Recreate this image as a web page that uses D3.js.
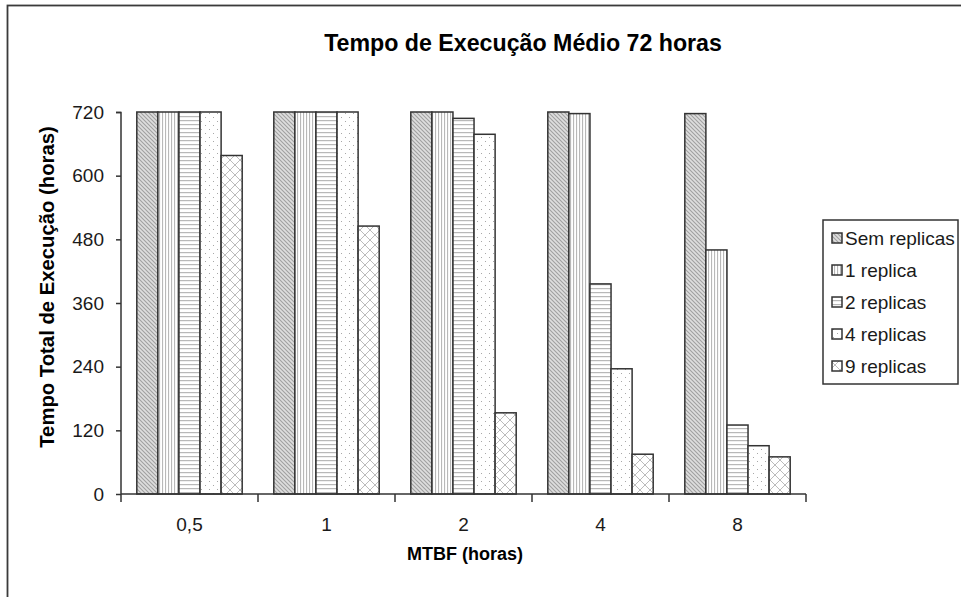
<!DOCTYPE html>
<html><head><meta charset="utf-8">
<script src="https://cdn.jsdelivr.net/npm/d3@7/dist/d3.min.js"></script>
<style>body{margin:0;background:#fff}svg{display:block;font-family:"Liberation Sans",Arial,sans-serif}</style>
</head><body><svg id="c" width="961" height="597"></svg>
<script>
const categories = ["0,5","1","2","4","8"];
const seriesNames = ["Sem replicas","1 replica","2 replicas","4 replicas","9 replicas"];
const semReplicas = [720,720,720,720,717];
const replica1 = [720,720,720,717,460];
const replicas2 = [720,720,708,396,130];
const replicas4 = [720,720,678,236,91];
const replicas9 = [638,505,153,75,70];
const yTicks = [0,120,240,360,480,600,720];
const seriesValues = [semReplicas, replica1, replicas2, replicas4, replicas9];

const svg = d3.select("#c");
const defs = svg.append("defs");
function pat(id, w, h, bg, draw){
  const p = defs.append("pattern").attr("id",id).attr("patternUnits","userSpaceOnUse").attr("width",w).attr("height",h);
  p.append("rect").attr("width",w).attr("height",h).attr("fill",bg);
  draw(p);
}
pat("p0",4,4,"#dedede",p=>{
  p.append("path").attr("d","M-1,-1L5,5M-1,3L1,5M3,-1L5,1").attr("stroke","#a0a0a0").attr("stroke-width",1.1);
});
pat("p1",3,4,"#fff",p=>{
  p.append("rect").attr("x",0).attr("y",0).attr("width",1.1).attr("height",4).attr("fill","#b8b8b8");
});
pat("p2",3,4,"#fff",p=>{
  p.append("rect").attr("x",0).attr("y",0).attr("width",3).attr("height",1.2).attr("fill","#b8b8b8");
});
pat("p3",8,8,"#fff",p=>{
  p.append("rect").attr("x",1).attr("y",1).attr("width",1).attr("height",1).attr("fill","#a8a8a8");
  p.append("rect").attr("x",5).attr("y",5).attr("width",1).attr("height",1).attr("fill","#a8a8a8");
});
pat("p4",10,10,"#fff",p=>{
  p.append("path").attr("d","M0,0L10,10M10,0L0,10M-1,9L1,11M9,-1L11,1M-1,1L1,-1M9,11L11,9").attr("stroke","#bcbcbc").attr("stroke-width",1);
});
const fills = ["url(#p0)","url(#p1)","url(#p2)","url(#p3)","url(#p4)"];

svg.append("rect").attr("x",7.5).attr("y",5.5).attr("width",980).attr("height",620)
  .attr("fill","none").attr("stroke","#3a3a3a").attr("stroke-width",1.8);

const x0 = d3.scaleBand().domain(categories).range([121,806]).paddingInner(0).paddingOuter(0);
const bw = x0.bandwidth()/6.5;
const x1 = d3.scaleBand().domain(d3.range(5)).range([0.75*bw, 5.75*bw]).padding(0);
const y = d3.scaleLinear().domain([0,720]).range([494,112]);

const g = svg.append("g");
categories.forEach((c,ci)=>{
  seriesValues.forEach((vals,si)=>{
    g.append("rect")
      .attr("x", x0(c)+x1(si)).attr("y", y(vals[ci]))
      .attr("width", x1.bandwidth()).attr("height", y(0)-y(vals[ci]))
      .attr("fill", fills[si]).attr("stroke","#333").attr("stroke-width",1.5);
  });
});

const ya = svg.append("g").attr("transform","translate(121,0)")
  .call(d3.axisLeft(y).tickValues(yTicks).tickSize(5).tickPadding(12).tickFormat(d3.format("d")));
ya.select(".domain").attr("stroke","#333").attr("stroke-width",1.5).attr("d","M-5,112.5H0V494");
ya.selectAll(".tick line").attr("stroke","#333").attr("stroke-width",1.5);
ya.selectAll(".tick text").attr("font-size",19).attr("fill","#1a1a1a").attr("font-family","Liberation Sans, Arial");

const xa = svg.append("g").attr("transform","translate(0,494)")
  .call(d3.axisBottom(x0).tickSize(0).tickPadding(24));
xa.select(".domain").attr("stroke","#333").attr("stroke-width",1.5).attr("d","M121,0H806");
xa.selectAll(".tick text").attr("font-size",19).attr("fill","#1a1a1a").attr("font-family","Liberation Sans, Arial");
const bounds = categories.map(c=>x0(c)).concat([x0(categories[4])+x0.bandwidth()]);
svg.append("g").selectAll("line").data(bounds).join("line")
  .attr("x1",d=>d).attr("x2",d=>d).attr("y1",494).attr("y2",502)
  .attr("stroke","#333").attr("stroke-width",1.5);

svg.append("text").attr("x",523).attr("y",51).attr("text-anchor","middle")
  .attr("font-size",23.2).attr("font-weight","bold").attr("fill","#000")
  .text("Tempo de Execução Médio 72 horas");
svg.append("text").attr("x",465).attr("y",560).attr("text-anchor","middle")
  .attr("font-size",18).attr("font-weight","bold").attr("fill","#000")
  .text("MTBF (horas)");
svg.append("text").attr("transform","translate(54,287) rotate(-90)").attr("text-anchor","middle")
  .attr("font-size",20.3).attr("font-weight","bold").attr("fill","#000")
  .text("Tempo Total de Execução (horas)");

const lg = svg.append("g");
lg.append("rect").attr("x",823).attr("y",220).attr("width",135).attr("height",164)
  .attr("fill","#fff").attr("stroke","#333").attr("stroke-width",1.5);
seriesNames.forEach((n,i)=>{
  const cy = 238 + i*32;
  lg.append("rect").attr("x",832).attr("y",cy-5).attr("width",10).attr("height",10)
    .attr("fill",fills[i]).attr("stroke","#333").attr("stroke-width",1.5);
  lg.append("text").attr("x",845).attr("y",cy+7).attr("font-size",19).attr("fill","#1a1a1a").text(n);
});
</script></body></html>
